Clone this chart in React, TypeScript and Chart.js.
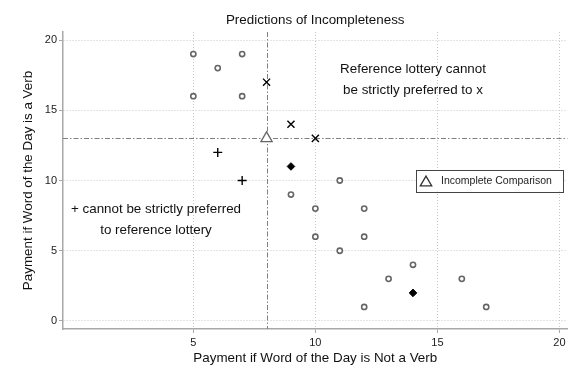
import React, { useEffect, useRef } from 'react';
import { Chart, registerables } from 'chart.js';

Chart.register(...registerables);

// ---- Data ----
const CIRCLE_X = [5, 5, 6, 7, 7, 9, 10, 10, 11, 11, 12, 12, 12, 13, 14, 16, 17];
const CIRCLE_Y = [19, 16, 18, 19, 16, 9, 8, 6, 10, 5, 8, 6, 1, 3, 4, 3, 1];
const CROSS_X = [8, 9, 10];
const CROSS_Y = [17, 14, 13];
const PLUS_X = [6, 7];
const PLUS_Y = [12, 10];
const DIAMOND_X = [9, 14];
const DIAMOND_Y = [11, 2];
const TRIANGLE_X = [8];
const TRIANGLE_Y = [13];

const X_TICKS = [5, 10, 15, 20];
const Y_TICKS = [0, 5, 10, 15, 20];
const X_MIN = -0.34;
const X_MAX = 20.33;
const Y_MIN = -0.57;
const Y_MAX = 20.57;
const REF_X = 8;
const REF_Y = 13;

const TITLE = 'Predictions of Incompleteness';
const X_TITLE = 'Payment if Word of the Day is Not a Verb';
const Y_TITLE = 'Payment if Word of the Day is a Verb';
const NOTE_RIGHT = ['Reference lottery cannot', 'be strictly preferred to x'];
const NOTE_RIGHT_X = 14;
const NOTE_RIGHT_Y = [17.93, 16.43];
const NOTE_LEFT = ['+ cannot be strictly preferred', 'to reference lottery'];
const NOTE_LEFT_X = 3.47;
const NOTE_LEFT_Y = [7.98, 6.48];
const LEGEND_LABEL = 'Incomplete Comparison';
const LEGEND_Y = 10;

const FONT = '"Liberation Sans", Arial, Helvetica, sans-serif';

const pts = (xs: number[], ys: number[]) => xs.map((x, i) => ({ x, y: ys[i] }));

const overlay = {
  id: 'overlay',
  beforeDatasetsDraw(chart: any) {
    const { ctx, chartArea: a, scales } = chart;
    const xs = scales.x;
    const ys = scales.y;
    ctx.save();
    ctx.strokeStyle = '#808080';
    ctx.lineWidth = 1;
    ctx.setLineDash([5, 2, 1.5, 2]);
    const px = Math.round(xs.getPixelForValue(REF_X)) + 0.5;
    ctx.beginPath();
    ctx.moveTo(px, a.top);
    ctx.lineTo(px, a.bottom);
    ctx.stroke();
    const py = Math.round(ys.getPixelForValue(REF_Y)) + 0.5;
    ctx.beginPath();
    ctx.moveTo(a.left, py);
    ctx.lineTo(a.right, py);
    ctx.stroke();
    ctx.restore();
  },
  afterDraw(chart: any) {
    const { ctx, chartArea: a, scales } = chart;
    const xs = scales.x;
    const ys = scales.y;
    ctx.save();
    ctx.fillStyle = '#111';
    ctx.textAlign = 'center';
    ctx.textBaseline = 'middle';
    ctx.font = `13.4px ${FONT}`;
    ctx.fillText(TITLE, (a.left + a.right) / 2, 20);

    NOTE_RIGHT.forEach((t, i) => {
      ctx.fillText(t, xs.getPixelForValue(NOTE_RIGHT_X), ys.getPixelForValue(NOTE_RIGHT_Y[i]));
    });
    NOTE_LEFT.forEach((t, i) => {
      ctx.fillText(t, xs.getPixelForValue(NOTE_LEFT_X), ys.getPixelForValue(NOTE_LEFT_Y[i]));
    });

    // legend box
    const w = 147;
    const h = 22;
    const right = a.right - 4.5;
    const cy = ys.getPixelForValue(LEGEND_Y);
    const left = right - w;
    const top = cy - h / 2;
    ctx.fillStyle = '#ffffff';
    ctx.fillRect(left, top, w, h);
    ctx.strokeStyle = '#444';
    ctx.lineWidth = 1;
    ctx.strokeRect(Math.round(left) + 0.5, Math.round(top) + 0.5, w, h);
    // triangle
    const tx = left + 10;
    const r = 6.6;
    const tcy = cy + 0.5;
    ctx.beginPath();
    for (let k = 0; k < 3; k++) {
      const ang = (k * 2 * Math.PI) / 3;
      const X = tx + Math.sin(ang) * r;
      const Y = tcy - Math.cos(ang) * r + r * 0.25;
      if (k === 0) ctx.moveTo(X, Y);
      else ctx.lineTo(X, Y);
    }
    ctx.closePath();
    ctx.strokeStyle = '#333';
    ctx.lineWidth = 1.3;
    ctx.stroke();
    ctx.fillStyle = '#222';
    ctx.textAlign = 'left';
    ctx.font = `10.5px ${FONT}`;
    ctx.fillText(LEGEND_LABEL, left + 25, cy + 0.5);
    ctx.restore();
  },
};

export default function App() {
  const ref = useRef<HTMLCanvasElement | null>(null);

  useEffect(() => {
    if (!ref.current) return;
    const gridCommon = {
      color: '#c8c8c8',
      lineWidth: 1,
      tickBorderDash: [],
      tickColor: '#a8a8a8',
      tickLength: 4,
      tickWidth: 1,
      drawOnChartArea: true,
      drawTicks: true,
    };
    const borderCommon = { display: true, color: '#a8a8a8', width: 1.5, dash: [1, 2], dashOffset: 0 };
    const chart = new Chart(ref.current, {
      type: 'scatter',
      data: {
        datasets: [
          {
            label: 'circles',
            data: pts(CIRCLE_X, CIRCLE_Y),
            pointStyle: 'circle',
            pointRadius: 2.6,
            pointBorderWidth: 1.6,
            pointBorderColor: '#666666',
            pointBackgroundColor: '#ffffff',
          },
          {
            label: 'x',
            data: pts(CROSS_X, CROSS_Y),
            pointStyle: 'crossRot',
            pointRadius: 5,
            pointBorderWidth: 1.4,
            pointBorderColor: '#000',
            pointBackgroundColor: '#000',
          },
          {
            label: 'plus',
            data: pts(PLUS_X, PLUS_Y),
            pointStyle: 'cross',
            pointRadius: 4.5,
            pointBorderWidth: 1.4,
            pointBorderColor: '#000',
            pointBackgroundColor: '#000',
          },
          {
            label: 'diamond',
            data: pts(DIAMOND_X, DIAMOND_Y),
            pointStyle: 'rectRot',
            pointRadius: 3.8,
            pointBorderWidth: 1,
            pointBorderColor: '#000',
            pointBackgroundColor: '#000',
          },
          {
            label: 'triangle',
            data: pts(TRIANGLE_X, TRIANGLE_Y),
            pointStyle: 'triangle',
            pointRadius: 6.5,
            pointBorderWidth: 1.3,
            pointBorderColor: '#666666',
            pointBackgroundColor: '#ffffff',
          },
        ],
      },
      options: {
        responsive: false,
        animation: false,
        events: [],
        layout: { padding: { top: 32, right: 13.5, bottom: 22, left: 0 } },
        plugins: {
          legend: { display: false },
          title: { display: false },
          tooltip: { enabled: false },
        },
        scales: {
          x: {
            type: 'linear',
            min: X_MIN,
            max: X_MAX,
            afterBuildTicks: (s: any) => {
              s.ticks = X_TICKS.map((v) => ({ value: v }));
            },
            afterFit: (s: any) => {
              s.height = 37;
              s.paddingLeft = 0;
              s.paddingRight = 0;
            },
            ticks: {
              padding: 3,
              color: '#222',
              font: { family: FONT, size: 11 },
              maxRotation: 0,
            },
            grid: gridCommon,
            border: borderCommon,
            title: {
              display: true,
              text: X_TITLE,
              color: '#111',
              font: { family: FONT, size: 13.4 },
              padding: { top: 0, bottom: 0 },
            },
          },
          y: {
            type: 'linear',
            min: Y_MIN,
            max: Y_MAX,
            afterBuildTicks: (s: any) => {
              s.ticks = Y_TICKS.map((v) => ({ value: v }));
            },
            afterFit: (s: any) => {
              s.width = 63;
              s.paddingTop = 0;
              s.paddingBottom = 0;
            },
            ticks: {
              padding: 2,
              color: '#222',
              font: { family: FONT, size: 11 },
            },
            grid: gridCommon,
            border: borderCommon,
            title: {
              display: true,
              text: Y_TITLE,
              color: '#111',
              font: { family: FONT, size: 13.4 },
              padding: { top: 20, bottom: 0 },
            },
          },
        },
      },
      plugins: [overlay],
    } as any);
    return () => chart.destroy();
  }, []);

  return (
    <div style={{ position: 'fixed', left: 0, top: 0, width: 581, height: 388, background: '#fff' }}>
      <canvas ref={ref} width={581} height={388} style={{ display: 'block' }} />
    </div>
  );
}
